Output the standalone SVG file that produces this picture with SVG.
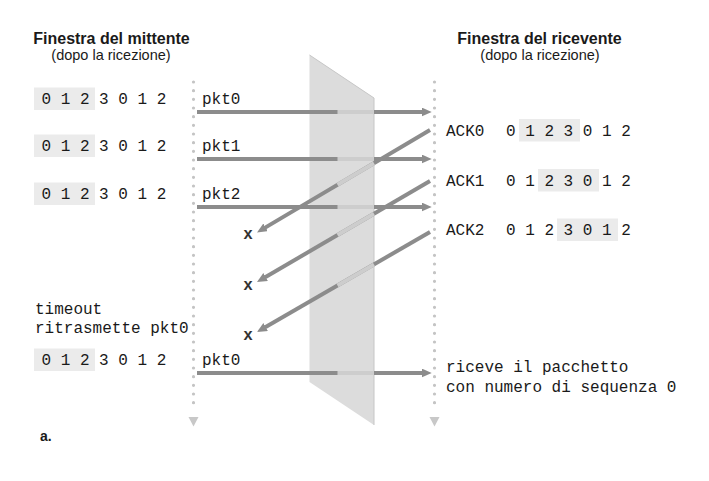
<svg xmlns="http://www.w3.org/2000/svg" width="709" height="481" viewBox="0 0 709 481">
<defs>
<style>
.hdr{font-family:"Liberation Sans",Arial,sans-serif;font-weight:bold;font-size:16px;fill:#1a1a1a;text-anchor:middle}
.sub{font-family:"Liberation Sans",Arial,sans-serif;font-size:14.5px;fill:#1a1a1a;text-anchor:middle}
.mono{font-family:"Liberation Mono","DejaVu Sans Mono",monospace;font-size:16px;fill:#1a1a1a}
.xm{font-family:"Liberation Mono","DejaVu Sans Mono",monospace;font-size:16px;font-weight:bold;fill:#333;text-anchor:middle}
.box{fill:#ebebeb}
.dots{stroke:#c4c4c4;stroke-width:3.2;stroke-linecap:round;stroke-dasharray:0 8.666;fill:none}
.tri{fill:#c8c8c8}
.msg{stroke:#8c8c8c;stroke-width:4;fill:none;marker-end:url(#ah)}
.lite{stroke:#cdcdcd;stroke-width:4;fill:none}
</style>
<marker id="ah" markerUnits="userSpaceOnUse" markerWidth="11" markerHeight="10" refX="2" refY="4.5" orient="auto" viewBox="0 0 11 10">
<path d="M0,0 L10,4.5 L0,9 Z" fill="#8c8c8c"/>
</marker>
</defs>
<rect width="709" height="481" fill="#ffffff"/>

<g id="header-sender">
<text class="hdr" x="111.5" y="44">Finestra del mittente</text>
<text class="sub" x="111" y="60">(dopo la ricezione)</text>
</g>
<g id="header-receiver">
<text class="hdr" x="539.5" y="44">Finestra del ricevente</text>
<text class="sub" x="540" y="60">(dopo la ricezione)</text>
</g>

<g id="timelines">
<line class="dots" x1="193.5" y1="82" x2="193.5" y2="411"/>
<path class="tri" d="M188.5,417 L198.5,417 L193.5,426.5 Z"/>
<line class="dots" x1="434.5" y1="82" x2="434.5" y2="411"/>
<path class="tri" d="M429.5,417 L439.5,417 L434.5,426.5 Z"/>
</g>

<g id="sender-windows">
<rect class="box" x="34" y="87.5" width="61" height="22.5"/>
<text class="mono" x="41.5" y="104" xml:space="preserve">0 1 2 3 0 1 2</text>
<rect class="box" x="34" y="134.5" width="61" height="22.5"/>
<text class="mono" x="41.5" y="151" xml:space="preserve">0 1 2 3 0 1 2</text>
<rect class="box" x="34" y="182.5" width="61" height="22.5"/>
<text class="mono" x="41.5" y="199" xml:space="preserve">0 1 2 3 0 1 2</text>
<text class="mono" x="35" y="314">timeout</text>
<text class="mono" x="35" y="333">ritrasmette pkt0</text>
<rect class="box" x="34" y="348.5" width="61" height="22.5"/>
<text class="mono" x="41.5" y="365" xml:space="preserve">0 1 2 3 0 1 2</text>
</g>

<g id="receiver-windows">
<text class="mono" x="446" y="135.5">ACK0</text>
<rect class="box" x="519" y="119" width="61" height="22.5"/>
<text class="mono" x="506" y="135.5" xml:space="preserve">0 1 2 3 0 1 2</text>
<text class="mono" x="446" y="185.5">ACK1</text>
<rect class="box" x="538" y="169" width="61" height="22.5"/>
<text class="mono" x="506" y="185.5" xml:space="preserve">0 1 2 3 0 1 2</text>
<text class="mono" x="446" y="235">ACK2</text>
<rect class="box" x="557" y="218.5" width="61" height="22.5"/>
<text class="mono" x="506" y="235" xml:space="preserve">0 1 2 3 0 1 2</text>
<text class="mono" x="446" y="372">riceve il pacchetto</text>
<text class="mono" x="446" y="392">con numero di sequenza 0</text>
</g>

<g id="channel">
<path d="M309.5,55 L374,98 L374,425 L309.5,382 Z" fill="#dcdcdc"/>
<path d="M309.5,55 L374,98 L374,425" fill="none" stroke="#c6c6c6" stroke-width="1"/>
</g>

<g id="connectors">
<line class="msg" x1="197" y1="112" x2="423.7" y2="112"/>
<line class="lite" x1="337.5" y1="112" x2="374" y2="112"/>
<line class="msg" x1="197" y1="159" x2="423.7" y2="159"/>
<line class="lite" x1="337.5" y1="159" x2="374" y2="159"/>
<line class="msg" x1="197" y1="207" x2="423.7" y2="207"/>
<line class="lite" x1="337.5" y1="207" x2="374" y2="207"/>
<line class="msg" x1="197" y1="373" x2="423.7" y2="373"/>
<line class="lite" x1="337.5" y1="373" x2="374" y2="373"/>

<line class="msg" x1="430" y1="130" x2="263.9" y2="228.4"/>
<line class="lite" x1="374" y1="163.2" x2="337.5" y2="184.8"/>
<line class="msg" x1="430" y1="181" x2="263.9" y2="278"/>
<line class="lite" x1="374" y1="213.7" x2="337.5" y2="235"/>
<line class="msg" x1="430" y1="232" x2="263.9" y2="328"/>
<line class="lite" x1="374" y1="264.4" x2="337.5" y2="285.5"/>
</g>

<g id="labels">
<text class="mono" x="202" y="104">pkt0</text>
<text class="mono" x="202" y="151">pkt1</text>
<text class="mono" x="202" y="199">pkt2</text>
<text class="mono" x="202" y="365">pkt0</text>
<text class="xm" x="248" y="239">x</text>
<text class="xm" x="248" y="290">x</text>
<text class="xm" x="248" y="340">x</text>
<text x="40" y="441" font-family="Liberation Sans, Arial, sans-serif" font-weight="bold" font-size="14" fill="#1a1a1a">a.</text>
</g>
</svg>
